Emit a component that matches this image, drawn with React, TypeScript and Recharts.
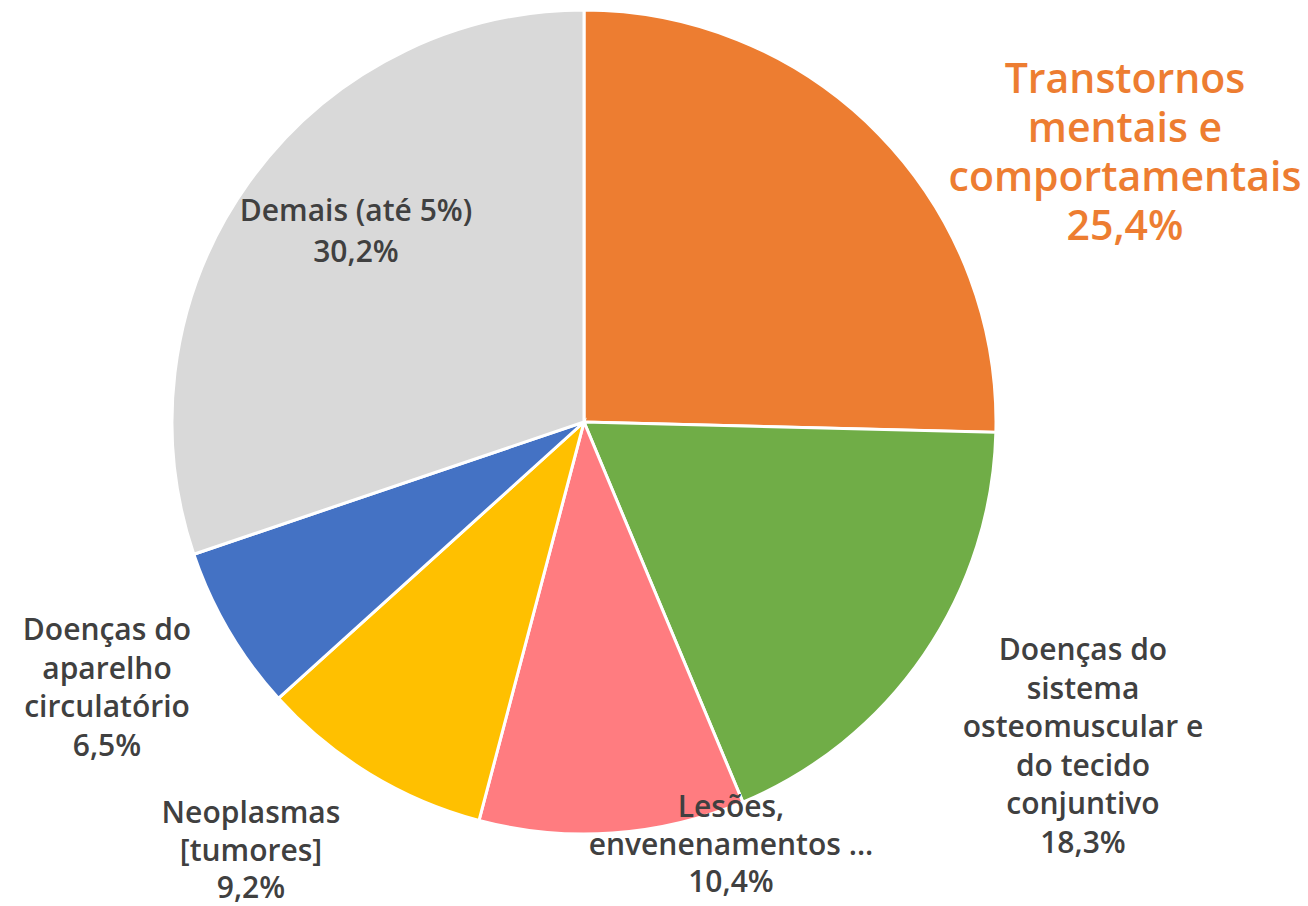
import { PieChart, Pie, Cell } from 'recharts';

const categorias = [
  'Transtornos mentais e comportamentais',
  'Doenças do sistema osteomuscular e do tecido conjuntivo',
  'Lesões, envenenamentos ...',
  'Neoplasmas [tumores]',
  'Doenças do aparelho circulatório',
  'Demais (até 5%)',
];

const participacao = [25.4, 18.3, 10.4, 9.2, 6.5, 30.2];

const linhasRotulo = [
  ['Transtornos', 'mentais e', 'comportamentais'],
  ['Doenças do', 'sistema', 'osteomuscular e', 'do tecido', 'conjuntivo'],
  ['Lesões,', 'envenenamentos ...'],
  ['Neoplasmas', '[tumores]'],
  ['Doenças do', 'aparelho', 'circulatório'],
  ['Demais (até 5%)'],
];

const cores = ['#ED7D31', '#70AD47', '#FF7C80', '#FFC000', '#4472C4', '#D9D9D9'];

// label anchor: offset from pie center to first baseline, plus font size / line height
const rotuloEstilo = [
  { dx: 541, dy: -329, size: 41, lh: 49, color: '#ED7D31' },
  { dx: 499, dy: 238, size: 30, lh: 38.5, color: '#404040' },
  { dx: 147, dy: 395, size: 30, lh: 37.5, color: '#404040' },
  { dx: -333, dy: 401, size: 30, lh: 37.5, color: '#404040' },
  { dx: -477, dy: 218, size: 30, lh: 38.5, color: '#404040' },
  { dx: -228, dy: -201, size: 30, lh: 41, color: '#404040' },
];

const data = categorias.map((nome, i) => ({ nome, valor: participacao[i] }));

const renderLabel = (props: any) => {
  const { cx, cy, index } = props;
  const s = rotuloEstilo[index];
  const linhas = [...linhasRotulo[index], participacao[index].toFixed(1).replace('.', ',') + '%'];
  return (
    <text
      x={cx + s.dx}
      y={cy + s.dy}
      textAnchor="middle"
      fill={s.color}
      fontSize={s.size}
      fontWeight={600}
      fontFamily="'Open Sans', sans-serif"
    >
      {linhas.map((l, k) => (
        <tspan key={k} x={cx + s.dx} dy={k === 0 ? 0 : s.lh}>
          {l}
        </tspan>
      ))}
    </text>
  );
};

export default function App() {
  return (
    <div style={{ position: 'absolute', left: 0, top: 0, background: '#fff' }}>
      <PieChart width={1308} height={906} margin={{ top: 0, right: 0, bottom: 0, left: 0 }}>
        <Pie
          data={data}
          dataKey="valor"
          nameKey="nome"
          cx={584}
          cy={422}
          outerRadius={412}
          startAngle={90}
          endAngle={-270}
          stroke="#ffffff"
          strokeWidth={3}
          label={renderLabel}
          labelLine={false}
          isAnimationActive={false}
        >
          {data.map((_, i) => (
            <Cell key={i} fill={cores[i]} />
          ))}
        </Pie>
      </PieChart>
    </div>
  );
}
